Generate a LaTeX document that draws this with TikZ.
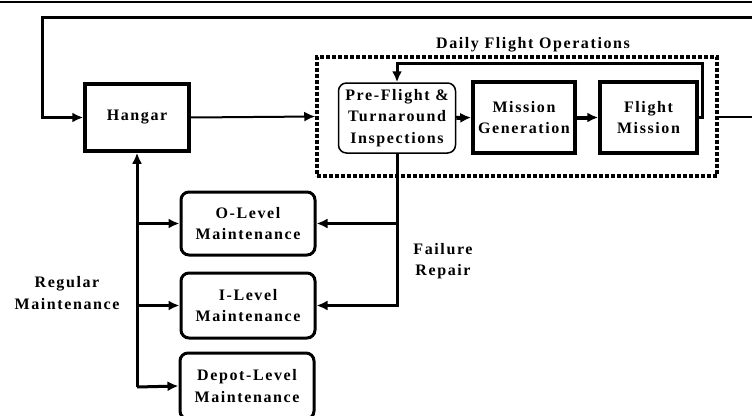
\documentclass[tikz,border=0pt]{standalone}
\usepackage{fontspec}
\newfontfamily\diagfont{Liberation Serif}[LetterSpace=10]
\usepackage{tikz}
\usetikzlibrary{positioning}
\usetikzlibrary{arrows.meta}
\tikzstyle{line} = [draw, -{Latex[length=11pt, width=10pt]}, line width=3pt]

\begin{document}
\begin{tikzpicture}[x=1pt, y=-1pt,
				every node/.style = {font=\diagfont\bfseries\fontsize{16}{21.5}\selectfont,
					align=center, inner sep=0pt},
				block/.style = {draw, line width=3.5pt,
					minimum width=100pt, minimum height=68pt},
				level/.style = {draw, line width=3pt, rounded corners=8pt,
					minimum width=134pt, minimum height=63pt},
				thickline/.style = {line, line width=4pt}]
				
				\useasboundingbox (0,0) rectangle (752,415);
				
				% Rule at the top
				\draw[line width=2.5pt] (0,2) -- (752,2);
				
				% Hangar
				\node[block, minimum width=104pt, minimum height=67pt] (hangar) at (137,117.5) {Hangar};
				
				% Daily flight operations
				\node[draw, line width=3.5pt, dash pattern=on 4pt off 2pt,
					minimum width=400pt, minimum height=119pt] (ops) at (517,116.5) {};
				\node (opslabel) at (533,45) {Daily Flight Operations};
				
				\node[draw, line width=1.5pt, rounded corners=8pt,
					minimum width=117pt, minimum height=70pt] (pre) at (397,118)
					{Pre-Flight \&\\Turnaround\\Inspections};
				\node[block, minimum width=102pt, minimum height=71pt] (mission) at (524,117.5) {Mission\\Generation};
				\node[block, minimum width=97pt, minimum height=71pt] (flight) at (648.5,117.5) {Flight\\Mission};
				
				% Maintenance levels
				\node[level] (olevel) at (248,223.5) {O-Level\\Maintenance};
				\node[level, minimum height=65pt] (ilevel) at (248,305.5) {I-Level\\Maintenance};
				\node[level, minimum height=66pt] (depot) at (247,386) {Depot-Level\\Maintenance};
				
				\node (regular) at (67,293) {Regular\\Maintenance};
				\node (failure) at (443,261) {Failure\\Repair};
				
				% Free ends and bends
				\coordinate (backR) at (760,17);
				\coordinate (backL) at (42,17);
				\coordinate (exitR) at (760,117);
				\coordinate (loopR) at (702,63);
				\coordinate (trunk) at (137,387);
				
				% Connectors
				\draw[line] (backR) -- (backL) |- (hangar.west);
				\draw[line, line width=2pt] (hangar.east) -- (ops.west);
				\draw[thickline] (pre.east) -- (mission.west);
				\draw[thickline] (mission.east) -- (flight.west);
				\draw[line] (flight.east) -| (loopR) -| (pre.north);
				\draw[line width=2pt] (ops.east |- exitR) -- (exitR);
				
				\draw[line] (pre.south) |- (olevel.east);
				\draw[line] (pre.south) |- (ilevel.east);
				
				\draw[line] (trunk) -- (hangar.south);
				\draw[line] (hangar.south |- olevel.west) -- (olevel.west);
				\draw[line] (hangar.south |- ilevel.west) -- (ilevel.west);
				\draw[line] (trunk) -- (depot.west);
				
		\end{tikzpicture}
\end{document}
